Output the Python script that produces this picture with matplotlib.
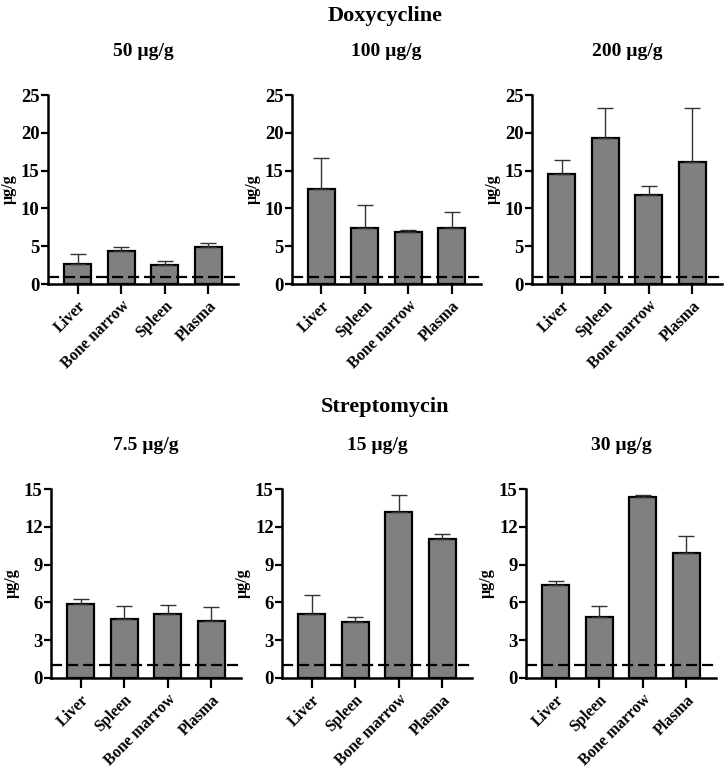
import matplotlib.pyplot as plt
import numpy as np

plt.rcParams['font.family'] = ['Liberation Serif', 'DejaVu Serif']
plt.rcParams['font.weight'] = 'bold'
plt.rcParams['axes.titleweight'] = 'bold'
plt.rcParams['axes.labelweight'] = 'bold'

# Doxycycline
doxy_doses = ["50 µg/g", "100 µg/g", "200 µg/g"]
doxy_cats = [
    ["Liver", "Bone narrow", "Spleen", "Plasma"],
    ["Liver", "Spleen", "Bone narrow", "Plasma"],
    ["Liver", "Spleen", "Bone narrow", "Plasma"],
]
doxy_mean = [
    [2.7, 4.3, 2.5, 4.95],
    [12.6, 7.35, 6.9, 7.4],
    [14.6, 19.35, 11.75, 16.1],
]
doxy_sd = [
    [1.25, 0.6, 0.55, 0.5],
    [4.1, 3.15, 0.2, 2.15],
    [1.8, 3.95, 1.15, 7.2],
]
doxy_lod = 0.9

# Streptomycin
strep_doses = ["7.5 µg/g", "15 µg/g", "30 µg/g"]
strep_cats = ["Liver", "Spleen", "Bone marrow", "Plasma"]
strep_mean = [
    [5.85, 4.65, 5.1, 4.5],
    [5.05, 4.45, 13.2, 11.05],
    [7.35, 4.85, 14.4, 9.95],
]
strep_sd = [
    [0.4, 1.05, 0.7, 1.1],
    [1.5, 0.4, 1.35, 0.4],
    [0.35, 0.85, 0.15, 1.35],
]
strep_lod = 1.0

W, H = 724, 768
fig = plt.figure(figsize=(W / 100, H / 100), dpi=100)

# axes boxes in pixels: (left, right)
top_x = [(48, 238), (292, 481), (532, 722)]
bot_x = [(51, 241), (282, 472), (526, 716)]
top_y = (95, 284)
bot_y = (489, 678)


def make_ax(xr, yr):
    return fig.add_axes([xr[0] / W, 1 - yr[1] / H, (xr[1] - xr[0]) / W, (yr[1] - yr[0]) / H])


def draw_panel(ax, cats, mean, sd, title, ymax, ystep, lod):
    x = np.arange(len(cats))
    ax.bar(x, mean, width=0.62, color="#808080", edgecolor="black", linewidth=1.6,
           yerr=[np.zeros(len(sd)), sd],
           error_kw=dict(ecolor="#333333", elinewidth=1.0, capsize=5.5, capthick=1.0),
           zorder=2)
    ax.axhline(lod, color="black", linestyle=(0, (5, 2.2)), linewidth=1.6, zorder=3)
    ax.set_xlim(-0.68, len(cats) - 1 + 0.68)
    ax.set_ylim(0, ymax)
    ax.set_yticks(np.arange(0, ymax + 0.01, ystep))
    ax.set_xticks(x)
    ax.set_xticklabels(cats, rotation=45, ha="right", rotation_mode="anchor",
                       fontsize=11.5, fontweight="bold")
    ax.tick_params(axis="y", labelsize=13.5, width=1.6, length=5, pad=1)
    ax.tick_params(axis="x", width=1.6, length=7, pad=3)
    for s in ["top", "right"]:
        ax.spines[s].set_visible(False)
    for s in ["left", "bottom"]:
        ax.spines[s].set_linewidth(1.8)
    ax.set_ylabel("µg/g", fontsize=11.5, fontweight="bold", labelpad=3)
    ax.set_title(title, fontsize=14, fontweight="bold", pad=28)


for i in range(3):
    ax = make_ax(top_x[i], top_y)
    draw_panel(ax, doxy_cats[i], doxy_mean[i], doxy_sd[i], doxy_doses[i], 25, 5, doxy_lod)
    ax = make_ax(bot_x[i], bot_y)
    draw_panel(ax, strep_cats, strep_mean[i], strep_sd[i], strep_doses[i], 15, 3, strep_lod)

fig.text(385 / W, 1 - 16 / H, "Doxycycline", ha="center", va="center", fontsize=16, fontweight="bold")
fig.text(385 / W, 1 - 407 / H, "Streptomycin", ha="center", va="center", fontsize=16, fontweight="bold")

fig.savefig("out.png", dpi=100)
